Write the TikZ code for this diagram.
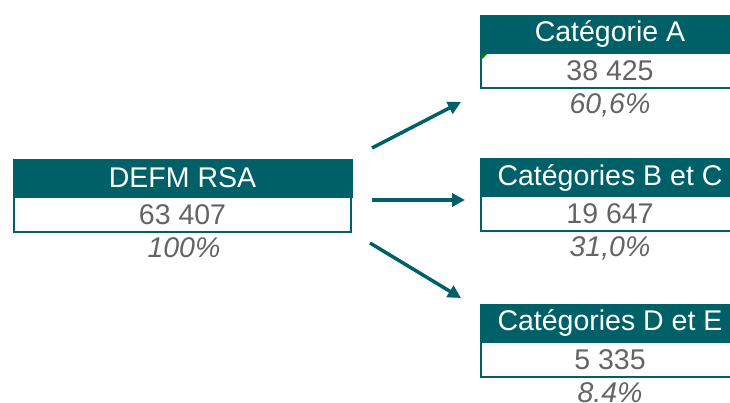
\documentclass[tikz,border=0pt]{standalone}
\usepackage{fontspec}
\setmainfont{Liberation Sans}
\usetikzlibrary{arrows.meta}
\definecolor{teal}{RGB}{0,96,104}
\definecolor{txtgray}{RGB}{100,100,100}
\tikzset{
  hdr/.style={fill=teal, draw=teal, text=white, minimum height=38pt, inner sep=0pt, font=\fontsize{28.5}{32}\selectfont, anchor=center},
  valbox/.style={fill=white, draw=teal, line width=2pt, text=txtgray, minimum height=35pt, inner sep=0pt, font=\fontsize{28.5}{32}\selectfont},
  pct/.style={text=txtgray, font=\fontsize{28.5}{32}\selectfont\itshape, inner sep=0pt},
  arr/.style={draw=teal, line width=3.5pt, -{Triangle[length=13pt,width=13pt]}}
}
\begin{document}
\begin{tikzpicture}[x=1pt,y=-1pt]
\useasboundingbox (0,0) rectangle (730,403);
\clip (0,0) rectangle (730,403);
% left
\node[valbox, minimum width=337pt] (v0) at (182.5,214.5) {63 407};
\node[hdr, minimum width=339pt] (h0) at (182.5,178) {DEFM RSA};
\node[pct] (p0) at (184,248) {100\%};
% A
\node[valbox, minimum width=258pt] (vA) at (610,70.5) {38 425};
\node[hdr, minimum width=260pt] (hA) at (610,34) {Catégorie A};
\node[pct] (pA) at (610,105) {60,6\%};
\fill[green!50!black] (481,54) -- (487,54) -- (481,60) -- cycle;
% B
\node[valbox, minimum width=258pt] (vB) at (610,213.5) {19 647};
\node[hdr, minimum width=260pt] (hB) at (610,177.5) {Catégories B et C};
\node[pct] (pB) at (610,248) {31,0\%};
% D
\node[valbox, minimum width=258pt] (vD) at (610,359.5) {5 335};
\node[hdr, minimum width=260pt] (hD) at (610,323) {Catégories D et E};
\node[pct] (pD) at (610,393) {8.4\%};
% arrows
\coordinate (a1s) at (372,148);
\coordinate (a1e) at (461,102);
\coordinate (a2s) at (372,200);
\coordinate (a2e) at (465,200);
\coordinate (a3s) at (370,243);
\coordinate (a3e) at (461,298);
\draw[arr] (a1s) -- (a1e);
\draw[arr] (a2s) -- (a2e);
\draw[arr] (a3s) -- (a3e);
\end{tikzpicture}
\end{document}
